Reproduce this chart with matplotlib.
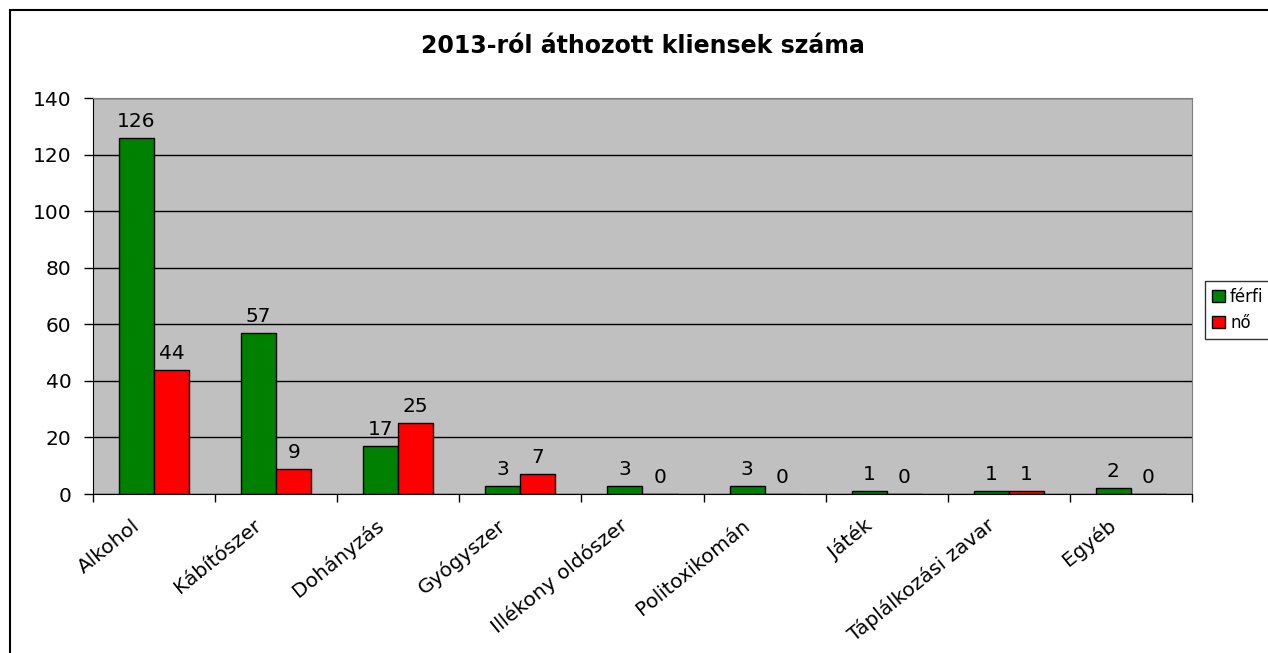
import numpy as np
import matplotlib.pyplot as plt
from matplotlib.patches import Rectangle

plt.rcParams['font.family'] = ['DejaVu Sans']

categories = ['Alkohol', 'Kábítószer', 'Dohányzás', 'Gyógyszer', 'Illékony oldószer',
              'Politoxikomán', 'Játék', 'Táplálkozási zavar', 'Egyéb']
ferfi = [126, 57, 17, 3, 3, 3, 1, 1, 2]
no = [44, 9, 25, 7, 0, 0, 0, 1, 0]

W, H = 1268, 653
fig = plt.figure(figsize=(W / 100, H / 100), dpi=100)
# outer chart border
fig.patches.append(Rectangle((10 / W, -0.01), 1.0, 1 - 10 / H + 0.01, transform=fig.transFigure,
                             fill=False, edgecolor='black', linewidth=1.5))

ax = fig.add_axes([93 / W, (H - 494) / H, (1192 - 93) / W, (494 - 98) / H])
ax.set_facecolor('#C0C0C0')

x = np.arange(len(categories))
bw = 0.287
b1 = ax.bar(x - bw / 2, ferfi, bw, color='#008000', edgecolor='black', linewidth=1, label='férfi', zorder=3)
b2 = ax.bar(x + bw / 2, no, bw, color='#FF0000', edgecolor='black', linewidth=1, label='nő', zorder=3)
ax.bar_label(b1, padding=5, fontsize=14.5)
ax.bar_label(b2, padding=5, fontsize=14.5)

ax.set_xlim(-0.5, len(categories) - 0.5)
ax.set_ylim(0, 140)
ax.set_yticks(range(0, 141, 20))
ax.yaxis.grid(True, color='black', linewidth=1, zorder=1)
ax.set_axisbelow(True)

ax.set_xticks(np.arange(-0.5, len(categories), 1))
ax.set_xticklabels([])
# labels sit a little left of the category centre, as in the original
ax.set_xticks(x - 0.14, minor=True)
ax.set_xticklabels(categories, minor=True, rotation=39, ha='right', va='center',
                   rotation_mode='anchor', fontsize=14.5)
ax.tick_params(axis='x', which='minor', length=0, pad=21)
ax.tick_params(axis='x', which='major', length=6, width=1, direction='out')
ax.tick_params(axis='y', length=6.5, width=1, direction='out', labelsize=14.5, pad=9)

for s in ['top', 'right']:
    ax.spines[s].set_color('#808080')
for s in ['left', 'bottom']:
    ax.spines[s].set_color('black')

fig.text((93 + 1192) / 2 / W, 1 - 46 / H, '2013-ról áthozott kliensek száma',
         ha='center', va='center', fontsize=17, fontweight='bold')

fig.legend(handles=[b1, b2], loc='upper left', bbox_to_anchor=(1205 / W, 1 - 281 / H),
           fontsize=12, frameon=True, fancybox=False, edgecolor='black', borderpad=0.4,
           handlelength=0.8, handleheight=0.7, handletextpad=0.3, labelspacing=0.5,
           borderaxespad=0)

fig.savefig('out.png', dpi=100)
